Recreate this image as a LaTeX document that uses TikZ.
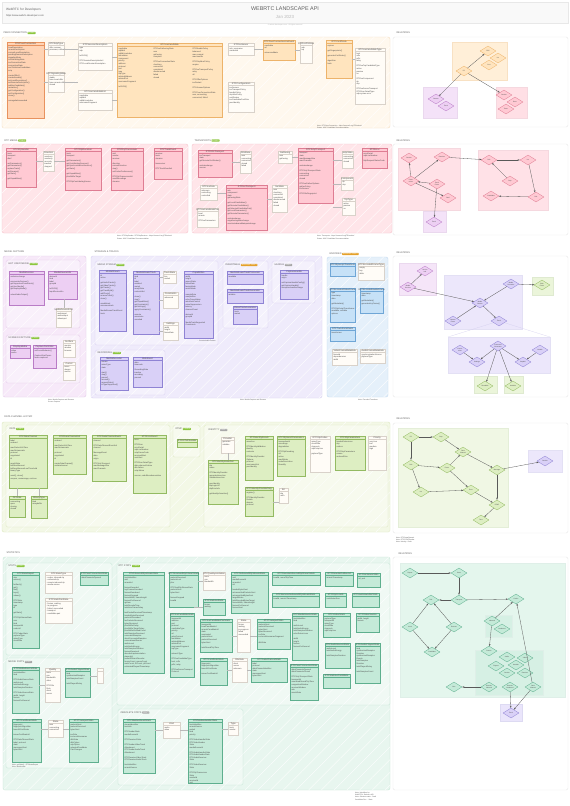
\documentclass[tikz,border=0pt]{standalone}
\usepackage{fontspec}
\setmainfont{Liberation Sans}
\usetikzlibrary{shapes.geometric,arrows.meta,calc,patterns.meta}
\definecolor{txtc}{HTML}{4A4A4A}
\definecolor{orD}{HTML}{FFD3B4}\definecolor{orDb}{HTML}{E8925E}
\definecolor{orL}{HTML}{FFE4BE}\definecolor{orLb}{HTML}{EDB36A}
\definecolor{paleF}{HTML}{FFFCF7}\definecolor{paleB}{HTML}{D9D2CA}
\definecolor{orS}{HTML}{FFF8EE}\definecolor{orSb}{HTML}{F4DEC2}
\definecolor{pkS}{HTML}{FFE5E9}\definecolor{pkSb}{HTML}{F5C3CB}
\definecolor{pkB}{HTML}{FFC9D3}\definecolor{pkBb}{HTML}{DE7D93}
\definecolor{puS}{HTML}{F7E9F9}\definecolor{puSb}{HTML}{E3CAE9}
\definecolor{puB}{HTML}{EDCFF3}\definecolor{puBb}{HTML}{B97CC6}
\definecolor{laS}{HTML}{EFEBFB}\definecolor{laSb}{HTML}{D8D0F0}
\definecolor{laB}{HTML}{D9D0F7}\definecolor{laBb}{HTML}{8F83D4}
\definecolor{blS}{HTML}{E5F0FA}\definecolor{blSb}{HTML}{C4DAF0}
\definecolor{blB}{HTML}{C6E1F7}\definecolor{blBb}{HTML}{6FA6D6}
\definecolor{gnS}{HTML}{F3F8E6}\definecolor{gnSb}{HTML}{DCE8C0}
\definecolor{gnB}{HTML}{DDEEC2}\definecolor{gnBb}{HTML}{93BA62}
\definecolor{mnS}{HTML}{E8F6EF}\definecolor{mnSb}{HTML}{C6E6D6}
\definecolor{mnB}{HTML}{C4EAD8}\definecolor{mnBb}{HTML}{5EAF8E}
\definecolor{tagG}{HTML}{8CC63F}\definecolor{tagO}{HTML}{E4A12B}\definecolor{tagY}{HTML}{A8A8A8}
\tikzset{
 ub/.style={draw,anchor=north west,inner sep=0pt,line width=0.3pt},
 ubt/.style={anchor=north,font=\fontsize{2.3}{2.7}\selectfont,text=txtc,inner sep=0.6pt},
 ubx/.style={anchor=north west,align=left,font=\fontsize{2}{2.55}\selectfont,text=txtc,inner sep=0.3pt},
 ork/.style={fill=orD,draw=orDb}, orl/.style={fill=orL,draw=orLb},
 pal/.style={fill=paleF,draw=paleB}, pkb/.style={fill=pkB,draw=pkBb},
 pub/.style={fill=puB,draw=puBb}, lab/.style={fill=laB,draw=laBb},
 blb/.style={fill=blB,draw=blBb}, gnb/.style={fill=gnB,draw=gnBb},
 mnb/.style={fill=mnB,draw=mnBb},
 secbox/.style={line width=0.4pt,rounded corners=2pt},
 hatch/.style={pattern={Lines[angle=45,distance=9pt,line width=0.35pt]},pattern color=white},
 subp/.style={draw=#1,line width=0.35pt,rounded corners=1.5pt,fill=white,fill opacity=0.35},
 stt/.style={anchor=west,font=\fontsize{2.4}{3}\selectfont,text=gray!75!black,inner sep=0.3pt},
 tagst/.style={fill=#1,rounded corners=0.6pt,font=\fontsize{1.8}{2}\selectfont,text=white,inner sep=0.6pt,anchor=west},
 note/.style={anchor=north west,align=left,font=\fontsize{1.7}{2.2}\selectfont,text=gray!70!black,inner sep=0pt},
 relp/.style={draw=gray!18,fill=white,line width=0.4pt,rounded corners=1.5pt},
 dia/.style={diamond,draw,inner sep=0pt,minimum width=16pt,minimum height=10pt,line width=0.3pt,align=center,font=\fontsize{1.6}{1.8}\selectfont,text=txtc},
 dor/.style={dia,fill=orL,draw=orLb}, dpk/.style={dia,fill=pkB,draw=pkBb},
 dpu/.style={dia,fill=puB,draw=puBb}, dla/.style={dia,fill=laB,draw=laBb},
 dgn/.style={dia,fill=gnB,draw=gnBb}, dmn/.style={dia,fill=mnB,draw=mnBb},
 rarr/.style={-{Stealth[length=2.2pt,width=1.6pt]},draw=gray!70!black,line width=0.3pt},
 lnk/.style={draw=gray!55,line width=0.25pt}
}
\newcommand\ub[8]{%
 \node[ub,#6,minimum width=#4pt,minimum height=#5pt] (#1) at (#2,#3) {};
 \node[ubt] at (#1.north) {#7};
 \draw[#6,fill=none,line width=0.25pt] ($(#1.north west)+(0pt,-3.6pt)$) -- ($(#1.north east)+(0pt,-3.6pt)$);
 \node[ubx] at ($(#1.north west)+(1pt,-4.2pt)$) {#8};
}
\newcommand\secrect[3]{% style, corner1, corner2
 \draw[secbox,#1] #2 rectangle #3;
 \fill[hatch,rounded corners=2pt] #2 rectangle #3;
}
\begin{document}
\begin{tikzpicture}[x=1pt,y=-1pt]
\useasboundingbox (0,0) rectangle (570,806);
\fill[white] (0,0) rectangle (570,806);
% ================= HEADER =================
\draw[fill=gray!5,draw=gray!18,line width=0.4pt] (2,2) rectangle (568,23);
\node[anchor=west,font=\fontsize{3.2}{4}\selectfont,text=gray!80!black,inner sep=0] (hd1) at (6,10) {WebRTC for Developers};
\node[anchor=west,font=\fontsize{2.4}{3}\selectfont,text=gray!65!black,inner sep=0] (hd2) at (6,15.5) {https://www.webrtc-developers.com};
\node[font=\fontsize{5.4}{6}\selectfont,text=gray!75!black,inner sep=0] (hd3) at (285,9) {WEBRTC LANDSCAPE API};
\node[font=\fontsize{4.4}{5}\selectfont,text=gray!55,inner sep=0] (hd4) at (285,17) {Jan 2023};
\node[font=\fontsize{1.7}{2}\selectfont,text=gray!60,inner sep=0] (hd5) at (285,25.5) {\textcopyright{} webrtc-developers.com - All rights reserved};

% ================= SECTION 1 : PEER CONNECTION =================
\secrect{fill=orS,draw=orSb}{(2,37)}{(390,128)}
\node[stt] (s1t) at (3,33) {PEER CONNECTION};
\node[tagst=tagG] at (s1t.east) {STABLE};
\ub{A}{7}{42}{37}{76}{ork}{RTCPeerConnection}{localDescription\\remoteDescription\\currentLocalDescription\\pendingRemoteDescription\\signalingState\\iceGatheringState\\iceConnectionState\\connectionState\\canTrickleIceCandidates\\sctp\\\\createOffer()\\createAnswer()\\setLocalDescription()\\setRemoteDescription()\\addIceCandidate()\\restartIce()\\getConfiguration()\\setConfiguration()\\close()\\\\onnegotiationneeded}
\ub{B}{48}{42}{16}{13}{pal}{RTCSdpType}{offer, answer\\pranswer, rollback}
\ub{C}{48}{72}{16}{20}{pal}{RTCSignalingState}{stable\\have-local-offer\\have-remote-offer\\closed}
\ub{D}{78}{43}{34}{27}{pal}{RTCSessionDescription}{type\\sdp\\\\toJSON()\\\\RTCSessionDescriptionInit\\RTCLocalSessionDescription}
\ub{E}{78}{90}{34}{20}{pal}{RTCIceCandidateInit}{candidate\\sdpMid\\sdpMLineIndex\\usernameFragment}
\ub{F}{117}{43}{105}{74}{orl}{RTCIceCandidate}{candidate\\sdpMid\\sdpMLineIndex\\foundation\\component\\priority\\address\\protocol\\port\\type\\tcpType\\relatedAddress\\relatedPort\\usernameFragment\\\\toJSON()}
\node[ubx] (Fc2) at ($(F.north west)+(36pt,-5pt)$) {RTCIceGatheringState\\new\\gathering\\complete\\\\RTCIceConnectionState\\checking\\connected\\completed\\disconnected\\failed\\closed};
\node[ubx] (Fc3) at ($(F.north west)+(75pt,-5pt)$) {RTCBundlePolicy\\balanced\\max-compat\\max-bundle\\\\RTCRtcpMuxPolicy\\require\\\\RTCIceTransportPolicy\\relay\\all\\\\RTCOfferOptions\\iceRestart\\\\RTCAnswerOptions\\\\RTCPeerConnectionState\\new, connecting\\connected, failed};
\ub{G}{228}{43}{26}{12}{pal}{RTCIceServer}{urls, username\\credential}
\ub{H}{228}{82}{26}{30}{pal}{RTCConfiguration}{iceServers\\iceTransportPolicy\\bundlePolicy\\rtcpMuxPolicy\\certificates\\iceCandidatePoolSize\\peerIdentity}
\ub{I}{263}{40}{32}{20}{orl}{RTCPeerConnectionIceEvent}{candidate\\url\\\\onicecandidate}
\ub{J}{300}{42}{12}{21}{pal}{RTCIceProtocol}{udp\\tcp\\\\}
\ub{K}{326}{40}{26}{38}{orl}{RTCCertificate}{expires\\\\getFingerprints()\\\\generateCertificate()\\\\algorithm\\hash}
\ub{L}{355}{48}{30}{56}{pal}{RTCIceCandidateType}{host\\srflx\\prflx\\relay\\\\RTCIceTcpCandidateType\\active\\passive\\so\\\\RTCIceComponent\\rtp\\rtcp\\\\RTCIceServerTransport\\RTCErrorDetailType\\sdp-syntax-error}
\draw[lnk] (A.east |- B.west) -- (B.west);
\draw[lnk] (A.east |- C.west) -- (C.west);
\draw[lnk] (B.east) -- (B.east -| D.west);
\draw[lnk] (C.east) -- (C.east -| E.west);
\draw[lnk] (D.east) -- (D.east -| F.west);
\draw[lnk] (E.east) -- (E.east -| F.west);
\draw[lnk] (G.east) -- (G.east -| I.west);
\draw[lnk] (I.east) -- (I.east -| J.west);
\draw[lnk] (K.east) -- (K.east -| L.west);
\node[note] (n1) at (317,125) {Note: RTCPeerConnection - https://www.w3.org/TR/webrtc/\\Status: W3C Candidate Recommendation};

% relations 1
\node[stt] at (396,33) {RELATIONS};
\draw[relp] (393,37) rectangle (568,127);
\draw[fill=orL!60,draw=orLb!40] (452,42) rectangle (507,80);
\draw[fill=puB!60,draw=puBb!30] (423,87) rectangle (457,118);
\draw[fill=pkB!60,draw=pkBb!30] (496,87) rectangle (527,118);
\node[dor] (r1a) at (464,71) {PC};
\node[dor] (r1b) at (488,51) {SDP};
\node[dor] (r1c) at (498,58) {Ice};
\node[dor] (r1d) at (489,65) {Cert};
\node[dpu] (r1e) at (436,99) {Stream};
\node[dpu] (r1f) at (446,106) {Track};
\node[dpk] (r1g) at (504,95) {Sender};
\node[dpk] (r1h) at (515,102) {Recv.};
\node[dpk] (r1i) at (506,109) {Trans.};
\draw[rarr] (r1a) -- (r1b);
\draw[rarr] (r1a) -- (r1e);
\draw[rarr] (r1a) -- (r1g);

% ================= SECTION 2 : RTP MEDIA / TRANSPORTS =================
\secrect{fill=pkS,draw=pkSb}{(2,144)}{(188,233)}
\node[stt] (s2t) at (4,140.5) {RTP MEDIA};
\node[tagst=tagG] at (s2t.east) {STABLE};
\ub{P1}{6}{148}{30}{39}{pkb}{RTCRtpSender}{track\\transport\\dtmf\\\\setParameters()\\getParameters()\\replaceTrack()\\setStreams()\\getStats()\\\\getCapabilities()}
\ub{P2}{43}{151}{11}{20}{pal}{Direction}{sendrecv\\sendonly\\recvonly\\inactive\\stopped}
\ub{P3}{65}{148}{36}{42}{pkb}{RTCRtpReceiver}{track\\transport\\\\getParameters()\\getContributingSources()\\getSynchronizationSources()\\getStats()\\\\getCapabilities()\\jitterBufferTarget\\\\RTCRtpContributingSource}
\ub{P4}{111}{148}{32}{42}{pkb}{RTCRtpTransceiver}{mid\\sender\\receiver\\\\direction\\currentDirection\\stop()\\setCodecPreferences()\\\\RTCRtpTransceiverInit\\sendEncodings\\streams}
\ub{P5}{154}{148}{28}{31}{pkb}{RTCTrackEvent}{receiver\\track\\streams\\\\transceiver\\\\RTCTrackEventInit}
\draw[lnk] (P1.east |- P2.west) -- (P2.west);
\draw[lnk] (P2.east) -- (P2.east -| P3.west);
\node[note] (n2a) at (117,235.5) {Note: RTCRtpSender / RTCRtpReceiver - https://www.w3.org/TR/webrtc/\\Status: W3C Candidate Recommendation};

\secrect{fill=pkS,draw=pkSb}{(192,144)}{(392,233)}
\node[stt] (s2u) at (194,140.5) {TRANSPORTS};
\node[tagst=tagG] at (s2u.east) {STABLE};
\ub{Q1}{198}{150}{34}{27}{pkb}{RTCDtlsTransport}{iceTransport\\state\\getRemoteCertificates()\\\\onstatechange\\onerror}
\ub{Q2}{240}{151}{11}{22}{pal}{DtlsState}{new\\connecting\\connected\\closed\\failed}
\ub{Q4}{200}{185}{17}{15}{pal}{RTCIceRole}{unknown\\controlling\\controlled}
\ub{Q5}{197}{208}{21}{19}{pal}{RTCIceCandidatePair}{local\\remote\\\\RTCIceParameters}
\ub{Q3}{226}{185}{41}{45}{pkb}{RTCIceTransport}{role\\component\\state\\gatheringState\\\\getLocalCandidates()\\getRemoteCandidates()\\getSelectedCandidatePair()\\getLocalParameters()\\getRemoteParameters()\\\\onstatechange\\ongatheringstatechange\\onselectedcandidatepairchange}
\ub{Q6}{272}{185}{15}{27}{pal}{IceState}{new\\checking\\connected\\completed\\disconnected\\failed\\closed}
\ub{Q7}{278}{151}{14}{12}{pal}{Gathering}{new\\gathering}
\ub{Q8}{298}{148}{35}{55}{pkb}{RTCSctpTransport}{transport\\state\\maxMessageSize\\maxChannels\\\\onstatechange\\\\RTCSctpTransportState\\connecting\\connected\\closed\\\\RTCIceGatherOptions\\gatherPolicy\\iceServers\\\\RTCDtlsFingerprint}
\ub{Q9}{342}{151}{11}{17}{pal}{SctpState}{connecting\\connected\\closed}
\ub{Q10}{341}{177}{12}{13}{pal}{Component}{rtp\\rtcp}
\ub{Q11}{342}{198}{13}{17}{pal}{TcpType}{active\\passive\\so}
\ub{Q12}{362}{148}{25}{20}{pkb}{RTCError}{errorDetail\\sdpLineNumber\\\\httpRequestStatusCode}
\draw[lnk] (Q1.east |- Q2.west) -- (Q2.west);
\draw[lnk] (Q4.east) -- (Q4.east -| Q3.west);
\draw[lnk] (Q3.east |- Q6.west) -- (Q6.west);
\draw[lnk] (Q7.east) -- (Q7.east -| Q8.west);
\draw[lnk] (Q8.east |- Q9.west) -- (Q9.west);
\draw[lnk] (Q8.east |- Q10.west) -- (Q10.west);
\draw[lnk] (Q8.east |- Q11.west) -- (Q11.west);
\node[note] (n2b) at (317,235.5) {Note: Transports - https://www.w3.org/TR/webrtc/\\Status: W3C Candidate Recommendation};

% relations 2
\node[stt] at (396,140.5) {RELATIONS};
\draw[relp] (393,144) rectangle (568,235);
\draw[fill=pkB!55,draw=pkBb!30] (398,148) rectangle (460,210);
\draw[fill=pkB!55,draw=pkBb!30] (478,150) rectangle (548,210);
\draw[fill=puB!60,draw=puBb!30] (423,211) rectangle (446,232);
\node[dpk] (r2a) at (409,158) {Sender};
\node[dpk] (r2b) at (442,157) {Receiver};
\node[dpk] (r2c) at (411,181) {Trans-\\ceiver};
\node[dpk] (r2d) at (437,184) {Track\\Event};
\node[dpk] (r2e) at (448,198) {Dtmf};
\node[dpk] (r2f) at (489,160) {Dtls};
\node[dpk] (r2g) at (528,160) {Ice};
\node[dpk] (r2h) at (510,181) {Sctp};
\node[dpk] (r2i) at (491,196) {Candidate};
\node[dpk] (r2j) at (536,197) {Pair};
\node[dpu] (r2k) at (434,222) {Track};
\draw[rarr] (r2c) -- (r2a);
\draw[rarr] (r2c) -- (r2b);
\draw[rarr] (r2d) -- (r2c);
\draw[rarr] (r2c) -- (r2e);
\draw[rarr] (r2d) -- (r2k);
\draw[rarr] (r2b) -- (r2f);
\draw[rarr] (r2f) -- (r2g);
\draw[rarr] (r2h) -- (r2f);
\draw[rarr] (r2g) -- (r2j);
\draw[rarr] (r2j) -- (r2i);

% ================= SECTION 3 : MEDIA CAPTURE / STREAMS / ENCODED =================
\node[stt] at (4,252) {MEDIA CAPTURE};
\secrect{fill=puS,draw=puSb}{(3,256)}{(86,397)}
\draw[subp=puSb] (6,260) rectangle (80,328);
\node[stt] (s3a) at (8,264) {GET USER MEDIA};
\node[tagst=tagG] at (s3a.east) {STABLE};
\ub{R1}{9}{271}{35}{34}{pub}{MediaDevices}{ondevicechange\\\\enumerateDevices()\\getSupportedConstraints()\\getUserMedia()\\getDisplayMedia()\\\\selectAudioOutput()}
\ub{R2}{48}{271}{29}{28}{pub}{MediaDeviceInfo}{deviceId\\kind\\label\\groupId\\\\toJSON()\\InputDeviceInfo}
\ub{R3}{56}{308}{15}{19}{pal}{MediaDeviceKind}{audioinput\\audiooutput\\videoinput\\}
\draw[lnk] (R2.south -| R3.north) -- (R3.north);
\draw[subp=puSb] (6,335) rectangle (80,383);
\node[stt] (s3b) at (8,338) {SCREEN CAPTURE};
\node[tagst=tagG] at (s3b.east) {STABLE};
\ub{R4}{10}{345}{20}{13}{pub}{DisplayMedia}{video\\audio}
\ub{R5}{33}{345}{23}{23}{pub}{CaptureController}{setFocusBehavior()\\\\CaptureStartFocus\\focus-captured}
\ub{R6}{63}{340}{12}{17}{pal}{Surface}{monitor\\window\\browser}
\ub{R7}{63}{362}{12}{18}{pal}{Cursor}{never\\always\\motion}
\node[note] (n3a) at (48,399) {Note: Media Capture and Streams\\Screen Capture};

\node[stt] at (94,252) {STREAMS \& TRACKS};
\secrect{fill=laS,draw=laSb}{(91,256)}{(322,398)}
\draw[subp=laSb] (95,261) rectangle (218,345);
\node[stt] (s3c) at (97,265) {MEDIA STREAM};
\node[tagst=tagG] at (s3c.east) {STABLE};
\ub{S1}{99}{270}{27}{61}{lab}{MediaStream}{id\\active\\\\getAudioTracks()\\getVideoTracks()\\getTracks()\\getTrackById()\\addTrack()\\removeTrack()\\clone()\\\\onaddtrack\\onremovetrack\\\\MediaStreamTrackEvent\\track\\\\}
\ub{S2}{133}{271}{26}{63}{lab}{MediaStreamTrack}{kind\\id\\label\\enabled\\muted\\readyState\\contentHint\\\\clone()\\stop()\\getCapabilities()\\getConstraints()\\getSettings()\\applyConstraints()\\\\onmute\\onunmute\\onended\\\\}
\ub{S3}{163}{271}{13}{12}{pal}{TrackState}{live\\ended}
\ub{S4}{163}{292}{15}{16}{pal}{Constraints}{advanced\\\\}
\ub{S5}{163}{322}{15}{18}{pal}{Settings}{width\\height\\frameRate}
\ub{S6}{184}{271}{29}{67}{lab}{Capabilities}{width\\height\\aspectRatio\\frameRate\\facingMode\\resizeMode\\\\sampleRate\\sampleSize\\echoCancellation\\autoGainControl\\noiseSuppression\\latency\\channelCount\\\\deviceId\\groupId\\\\MediaTrackSupported\\Constraints}
\draw[lnk] (S2.east |- S3.west) -- (S3.west);
\draw[lnk] (S2.east |- S4.west) -- (S4.west);
\draw[lnk] (S2.east |- S5.west) -- (S5.west);
\node[note] (n3b) at (197,340.5) {... Constrainable Pattern};
\draw[subp=laSb] (95,350) rectangle (165,395);
\node[stt] (s3d) at (97,353) {RECORDING};
\node[tagst=tagG] at (s3d.east) {STABLE};
\ub{S7}{100}{357}{28}{33}{lab}{MediaRecorder}{stream\\mimeType\\state\\\\start()\\stop()\\pause()\\resume()\\requestData()\\isTypeSupported()}
\ub{S8}{133}{357}{29}{30}{lab}{BlobEvent}{data\\timecode\\\\RecordingState\\inactive\\recording\\paused}
\draw[subp=laSb] (223,261) rectangle (268,328);
\node[stt] (s3e) at (225,265) {INSERTABLE};
\node[tagst=tagO] at (s3e.east) {WORKING DRAFT};
\ub{S9}{227}{271}{36}{13}{lab}{MediaStreamTrackProcessor}{readable}
\ub{S10}{227}{289}{36}{14}{lab}{MediaStreamTrackGenerator}{writable\\}
\ub{S11}{233}{306}{24}{18}{lab}{VideoTrackGenerator}{track\\muted\\}
\draw[subp=laSb] (272,261) rectangle (315,303);
\node[stt] (s3f) at (274,265) {HANDLE};
\node[tagst=tagY] at (s3f.east) {DRAFT};
\ub{S12}{280}{270}{28}{29}{lab}{CaptureHandle}{handle\\origin\\\\setCaptureHandleConfig()\\getCaptureHandle()\\oncapturehandlechange}
\node[note] (n3c) at (240,399.5) {Note: Media Capture and Streams};

\node[stt] (s3g) at (329,254) {ENCODED};
\node[tagst=tagO] at (s3g.east) {WORKING DRAFT};
\secrect{fill=blS,draw=blSb}{(327,257)}{(388,397)}
\ub{T1}{330}{263}{25}{13}{blb}{RTCRtpScriptTransform}{}
\ub{T2}{358}{263}{26}{17}{pal}{RTCEncodedFrameType}{empty\\key\\delta}
\ub{T3}{330}{288}{25}{34}{blb}{RTCEncodedVideoFrame}{type\\timestamp\\data\\\\getMetadata()\\\\RTCRtpScriptTransformer\\readable, writable\\options}
\ub{T4}{360}{288}{23}{25}{blb}{RTCEncodedAudioFrame}{timestamp\\data\\\\getMetadata()\\generateKeyFrame()}
\ub{T5}{330}{327}{25}{14}{blb}{RTCTransformEvent}{transformer\\}
\ub{T6}{332}{349}{25}{16}{pal}{VideoFrameMetadata}{frameId\\dependencies\\width}
\ub{T7}{360}{349}{25}{14}{pal}{AudioFrameMetadata}{synchronizationSource\\payloadType}
\node[note] (n3d) at (358,399.5) {Note: Encoded Transform};

% relations 3
\node[stt] at (396,253) {RELATIONS};
\draw[relp] (393,256) rectangle (568,397);
\draw[fill=puB!55,draw=puBb!30] (399,263) rectangle (436,295);
\draw[fill=laB!50,draw=laBb!25] (444,275) rectangle (522,329);
\draw[fill=gnB!60,draw=gnBb!30] (532,277) rectangle (553,295);
\draw[fill=laB!50,draw=laBb!25] (448,337) rectangle (550,373);
\draw[fill=gnB!60,draw=gnBb!30] (474,376) rectangle (497,393);
\draw[fill=gnB!60,draw=gnBb!30] (504,376) rectangle (523,393);
\draw[draw=laBb!40,line width=0.2pt] (499,321) -- (448,337);
\draw[draw=laBb!40,line width=0.2pt] (499,321) -- (550,337);
\node[dpu] (r3a) at (425,271) {Device\\Info};
\node[dpu] (r3b) at (408,287) {Media\\Devices};
\node[dla] (r3c) at (480,303) {Media\\Stream};
\node[dla] (r3d) at (511,284) {Media\\Recorder};
\node[dgn] (r3e) at (542,285) {Blob\\Event};
\node[dla] (r3f) at (453,321) {Stream\\Event};
\node[dla] (r3g) at (499,321) {Track};
\node[dla] (r3h) at (498,346) {Processor\\Generator};
\node[dla] (r3i) at (460,350) {Constr-\\aints};
\node[dla] (r3j) at (477,362) {Settings};
\node[dla] (r3k) at (523,362) {Capabil.};
\node[dla] (r3l) at (540,350) {Handle};
\node[dgn] (r3m) at (485,386) {Readable};
\node[dgn] (r3n) at (513,386) {Writable};
\draw[rarr] (r3b) -- (r3a);
\draw[rarr] (r3b) -- (r3c);
\draw[rarr] (r3d) -- (r3c);
\draw[rarr] (r3d) -- (r3e);
\draw[rarr] (r3f) -- (r3c);
\draw[rarr] (r3c) -- (r3g);
\draw[rarr] (r3i) -- (r3j);
\draw[rarr] (r3h) -- (r3j);
\draw[rarr] (r3h) -- (r3k);
\draw[rarr] (r3l) -- (r3k);
\draw[rarr] (r3h) -- (r3m);
\draw[rarr] (r3h) -- (r3n);

% ================= SECTION 4 : DATA CHANNEL / DTMF / IDENTITY =================
\node[stt] at (4,417) {DATA CHANNEL \& DTMF};
\secrect{fill=gnS,draw=gnSb}{(2,422)}{(390,532)}
\draw[subp=gnSb] (6,425) rectangle (170,527);
\node[stt] (s4a) at (9,429) {DATA};
\node[tagst=tagG] at (s4a.east) {STABLE};
\ub{U1}{9}{435}{38}{53}{gnb}{RTCDataChannel}{label\\ordered\\\\maxPacketLifeTime\\maxRetransmits\\protocol\\negotiated\\id\\\\readyState\\bufferedAmount\\bufferedAmountLowThreshold\\binaryType\\\\send(), close()\\onopen, onmessage, onclose}
\ub{U2}{53}{435}{33}{39}{gnb}{RTCDataChannelInit}{ordered\\\\maxPacketLifeTime\\maxRetransmits\\\\protocol\\negotiated\\id\\\\createDataChannel()\\ondatachannel}
\ub{U3}{92}{435}{34}{46}{gnb}{RTCDataChannelEvent}{channel\\\\RTCDataChannelEventInit\\channel\\\\MessageEvent\\data\\origin\\\\RTCSctpTransport\\maxMessageSize\\maxChannels}
\ub{U4}{133}{435}{33}{58}{gnb}{RTCErrorEvent}{error\\\\RTCError\\errorDetail\\sdpLineNumber\\sctpCauseCode\\receivedAlert\\sentAlert\\\\RTCErrorDetailType\\data-channel-failure\\dtls-failure\\sctp-failure\\\\onerror, onbufferedamountlow}
\ub{U5}{9}{496}{16}{21}{gnb}{DCState}{connecting\\open\\closing\\closed}
\ub{U6}{31}{496}{16}{22}{gnb}{BinaryType}{blob\\arraybuffer\\\\}
\draw[lnk] (U1.south -| U5.north) -- (U5.north);
\draw[lnk] (U1.south -| U6.north) -- (U6.north);
\draw[subp=gnSb] (173,425) rectangle (200,457);
\node[stt] (s4b) at (175,429) {DTMF};
\node[tagst=tagG] at (s4b.east) {STABLE};
\ub{U7}{177}{439}{20}{8}{gnb}{RTCDTMFSender}{}
\draw[subp=gnSb] (204,425) rectangle (388,527);
\node[stt] (s4c) at (208,430) {IDENTITY};
\node[tagst=tagY] at (s4c.east) {DRAFT};
\ub{U8}{221}{437}{13}{16}{pal}{Provider}{generate\\validate}
\ub{U9}{208}{460}{30}{44}{gnb}{RTCIdentityAssertion}{idp\\name\\\\RTCIdentityProvider\\generateAssertion\\validateAssertion\\\\peerIdentity\\idpLoginUrl\\idpErrorInfo\\\\getIdentityAssertion()}
\ub{U10}{245}{436}{28}{44}{gnb}{RTCIdentityResult}{assertion\\\\RTCIdentityValidation\\identity\\contents\\\\RTCIdentityProvider\\Options\\protocol\\usernameHint\\peerIdentity}
\ub{U11}{245}{487}{28}{29}{gnb}{RTCIdentityProviderReg}{register()\\\\RTCIdentityProvider\\Details\\domain\\protocol}
\ub{U12}{279}{488}{9}{15}{pal}{Err}{idp\\auth}
\ub{U13}{277}{436}{28}{40}{gnb}{RTCRtpSendParameters}{transactionId\\encodings\\degradation\\\\RTCRtpEncoding\\rid\\active\\maxBitrate\\scaleResolution\\DownBy}
\ub{U14}{310}{436}{20}{36}{pal}{RTCRtpCodec}{mimeType\\clockRate\\channels\\sdpFmtpLine\\\\payloadType}
\ub{U15}{335}{436}{30}{34}{gnb}{RTCRtpParameters}{headerExtensions\\rtcp\\codecs\\\\RTCRtcpParameters\\cname\\reducedSize}
\ub{U16}{368}{436}{18}{34}{pal}{Priority}{very-low\\low\\medium\\high\\\\}
\draw[lnk] (U8.south) -- (U8.south |- U9.north);
\draw[lnk] (U11.east) -- (U11.east -| U12.west);
\node[note] (n4) at (396,537) {Note: RTCDataChannel\\Note: RTCDTMFSender\\Note: Identity - Draft};

% relations 4
\node[stt] at (396,419) {RELATIONS};
\draw[relp] (393,423) rectangle (568,533);
\draw[fill=gnB!45,draw=gnBb!25] (398,428) rectangle (508,527);
\draw[fill=laB!50,draw=laBb!25] (528,450) rectangle (562,472);
\node[dgn] (r4a) at (411,437) {PC};
\node[dgn] (r4b) at (441,437) {Sctp};
\node[dgn] (r4c) at (463,452) {Data\\Channel};
\node[dgn] (r4d) at (411,465) {Dtls};
\node[dgn] (r4e) at (447,468) {Event};
\node[dgn] (r4f) at (421,492) {Ice};
\node[dgn] (r4g) at (471,490) {Error};
\node[dgn] (r4h) at (497,470) {Message};
\node[dgn] (r4i) at (497,505) {DTMF};
\node[dgn] (r4j) at (481,520) {Tone};
\node[dla] (r4k) at (545,461) {Sender};
\draw[rarr] (r4a) -- (r4b);
\draw[rarr] (r4b) -- (r4c);
\draw[rarr] (r4a) -- (r4d);
\draw[rarr] (r4d) -- (r4e);
\draw[rarr] (r4e) -- (r4c);
\draw[rarr] (r4d) -- (r4f);
\draw[rarr] (r4f) -- (r4g);
\draw[rarr] (r4e) -- (r4g);
\draw[rarr] (r4c) -- (r4h);
\draw[rarr] (r4h) -- (r4i);
\draw[rarr] (r4g) -- (r4i);
\draw[rarr] (r4i) -- (r4j);
\draw[rarr] (r4h) -- (r4k);

% ================= SECTION 5 : STATISTICS =================
\node[stt] at (6,553) {STATISTICS};
\secrect{fill=mnS,draw=mnSb}{(3,557)}{(390,790)}
\draw[subp=mnSb] (6,563) rectangle (112,655);
\node[stt] (s5a) at (8,566) {STATS};
\node[tagst=tagG] at (s5a.east) {STABLE};
\ub{V1}{12}{572}{27}{76}{mnb}{RTCStatsReport}{size\\entries()\\\\forEach()\\get()\\has()\\keys()\\values()\\\\RTCStats\\timestamp\\type\\id\\\\getStats()\\\\RTCRtpStreamStats\\ssrc\\kind\\transportId\\codecId\\\\RTCCodecStats\\payloadType\\mimeType\\clockRate}
\ub{V2}{45}{572}{27}{21}{pal}{RTCStatsType}{- codec, inbound-rtp\\- outbound-rtp\\- remote-inbound-rtp\\- media-source}
\ub{V3}{45}{598}{27}{25}{pal}{RTCStatsPairState}{- frozen, waiting\\- in-progress\\- failed, succeeded\\- transport\\- candidate-pair}
\ub{V4}{80}{572}{28}{13}{mnb}{RTCPeerConnectionStats}{dataChannelsOpened\\}
\draw[subp=mnSb] (6,658) rectangle (112,768);
\node[stt] (s5b) at (8,662) {MEDIA STATS};
\node[tagst=tagY] at (s5b.east) {DRAFT};
\ub{V5}{12}{667}{27}{46}{mnb}{RTCMediaSourceStats}{trackIdentifier\\kind\\\\RTCAudioSourceStats\\audioLevel\\totalAudioEnergy\\totalSamplesDuration\\\\RTCVideoSourceStats\\width, height\\frames\\framesPerSecond}
\ub{V6}{45}{668}{15}{34}{pal}{Quality}{none\\cpu\\bandwidth\\other\\\\RTCDtls\\Role\\client\\server}
\ub{V7}{65}{668}{25}{29}{mnb}{RTCAudioPlayoutStats}{kind\\synthesizedSamples\\totalSamplesCount\\\\totalPlayoutDelay}
\ub{V8}{97}{668}{6}{15}{pal}{}{}
\ub{V9}{12}{719}{29}{43}{mnb}{RTCCertificateStats}{fingerprint\\fingerprintAlgorithm\\base64Certificate\\\\issuerCertificateId\\\\RTCDataChannelStats\\label, protocol\\state\\messagesSent\\bytesSent}
\ub{V10}{48}{720}{15}{17}{pal}{State}{new\\connecting\\connected}
\ub{V11}{69}{719}{29}{43}{mnb}{RTCTransportStats}{packetsSent\\packetsReceived\\bytesSent\\\\iceRole\\iceLocalUsername\\dtlsState\\dtlsCipher\\srtpCipher\\selectedCandidate\\PairChanges}
\draw[lnk] (V5.east |- V6.west) -- (V6.west);
\draw[lnk] (V7.east |- V8.west) -- (V8.west);
\draw[lnk] (V9.east |- V10.west) -- (V10.west);
\draw[lnk] (V10.east) -- (V10.east -| V11.west);
\node[note] (n5a) at (12,764) {Note: getStats() - RTCStatsReport\\Note: Media stats};

\draw[subp=mnSb] (117,563) rectangle (390,705);
\node[stt] (s5c) at (118,566) {RTP STATS};
\node[tagst=tagG] at (s5c.east) {STABLE};
\ub{W1}{123}{572}{41}{101}{mnb}{RTCInboundRtpStreamStats}{trackIdentifier\\mid\\remoteId\\\\framesDecoded\\keyFramesDecoded\\framesRendered\\framesDropped\\frameWidth, frameHeight\\framesPerSecond\\qpSum\\totalDecodeTime\\totalInterFrameDelay\\\\lastPacketReceivedTimestamp\\headerBytesReceived\\packetsDiscarded\\fecPacketsReceived\\bytesReceived\\jitterBufferDelay\\jitterBufferTargetDelay\\jitterBufferEmittedCount\\totalSamplesReceived\\concealedSamples\\silentConcealedSamples\\concealmentEvents\\audioLevel\\totalAudioEnergy\\totalSamplesDuration\\framesReceived\\decoderImplementation\\playoutId\\powerEfficientDecoder\\freezeCount, pauseCount\\nackCount, firCount, pliCount\\estimatedPlayoutTimestamp}
\ub{W2}{169}{572}{29}{35}{mnb}{RTCReceivedRtpStreamStats}{packetsReceived\\packetsLost\\jitter\\\\RTCSentRtpStreamStats\\packetsSent\\bytesSent\\\\framesDropped\\localId}
\ub{W3}{203}{572}{22}{18}{pal}{RTCQualityLimitation}{none\\cpu\\bandwidth}
\ub{W4}{231}{572}{37}{41}{mnb}{RTCOutboundRtpStreamStats}{mid\\mediaSourceId\\remoteId\\rid\\\\headerBytesSent\\retransmittedPacketsSent\\retransmittedBytesSent\\targetBitrate\\totalEncodedBytesTarget\\frameWidth, frameHeight\\framesPerSecond\\framesSent}
\ub{W5}{272}{572}{48}{13}{mnb}{RTCRemoteInboundRtpStreamStats}{localId, roundTripTime}
\ub{W6}{325}{572}{28}{14}{mnb}{RTCRemoteOutbound}{remoteTimestamp}
\ub{W7}{357}{573}{23}{14}{mnb}{RTCIceServerStats}{url, port}
\ub{W8}{170}{613}{24}{64}{mnb}{RTCIceCandidateStats}{transportId\\address\\port\\protocol\\candidateType\\priority\\url\\relayProtocol\\foundation\\relatedAddress\\relatedPort\\usernameFragment\\tcpType\\\\networkType\\\\RTCIceCandidateType\\host, srflx\\prflx, relay\\\\RTCIceServerTransport\\Protocol}
\ub{W9}{203}{599}{22}{16}{mnb}{RTCStatsIceState}{frozen\\waiting}
\ub{W10}{200}{619}{32}{33}{mnb}{RTCIceCandidatePairStats}{transportId\\localCandidateId\\remoteCandidateId\\state\\nominated\\packetsSent\\packetsReceived\\bytesSent\\\\totalRoundTripTime}
\ub{W11}{237}{619}{13}{33}{pal}{State}{frozen\\waiting\\in-progress\\failed\\succeeded\\\\}
\ub{W12}{257}{619}{33}{30}{mnb}{RTCTransportStats}{packetsSent\\packetsReceived\\bytesSent\\bytesReceived\\iceRole\\iceLocalUsernameFragment\\\\dtlsState}
\ub{W13}{272}{593}{47}{14}{mnb}{RTCRemoteOutboundRtpStreamStats}{localId, remoteTimestamp}
\ub{W14}{325}{593}{21}{14}{mnb}{RTCRtpContrib}{contributorSsrc}
\ub{W15}{352}{593}{27}{14}{mnb}{RTCAudioHandlerStats}{}
\ub{W16}{292}{613}{26}{47}{mnb}{RTCMediaSourceStats}{trackIdentifier\\kind\\\\audioLevel\\totalAudioEnergy\\totalSamplesDuration\\echoReturnLoss\\\\width\\height\\frames\\framesPerSecond\\\\}
\ub{W17}{323}{613}{27}{24}{mnb}{RTCCodecStats}{payloadType\\transportId\\mimeType\\clockRate\\channels\\sdpFmtpLine}
\ub{W18}{356}{613}{23}{19}{mnb}{RTCVideoSource}{width, height\\frames\\\\}
\ub{W19}{200}{658}{27}{27}{mnb}{RTCCertificateStats}{fingerprint\\fingerprintAlgorithm\\base64Certificate\\\\issuerCertificateId}
\ub{W20}{232}{658}{15}{24}{pal}{DtlsRole}{client\\server\\unknown\\\\}
\ub{W21}{251}{658}{36}{24}{mnb}{RTCDataChannelStats}{label\\protocol\\dataChannelIdentifier\\state\\messagesSent\\bytesSent}
\ub{W22}{325}{643}{25}{25}{mnb}{RTCAudioSourceStats}{audioLevel\\totalAudioEnergy\\\\totalSamplesDuration}
\ub{W23}{355}{643}{25}{40}{mnb}{RTCAudioPlayoutStats}{kind\\synthesizedSamples\\Duration\\synthesizedSamples\\Events\\totalSamples\\Duration\\totalPlayoutDelay\\\\totalSamplesCount}
\ub{W24}{290}{664}{28}{36}{mnb}{RTCPeerConnectionStats}{dataChannelsOpened\\dataChannelsClosed\\\\RTCSctpTransportStats\\transportId\\smoothedRoundTripTime\\congestionWindow\\receiverWindow\\mtu\\unackData}
\ub{W25}{323}{674}{27}{14}{mnb}{RTCStatsIceCandidate}{}
\draw[lnk] (W2.east |- W3.west) -- (W3.west);
\draw[lnk] (W8.east |- W9.west) -- (W9.west);
\draw[lnk] (W10.east |- W11.west) -- (W11.west);
\draw[lnk] (W11.east) -- (W11.east -| W12.west);
\draw[lnk] (W19.east |- W20.west) -- (W20.west);
\draw[lnk] (W20.east) -- (W20.east -| W21.west);

\draw[subp=mnSb] (118,709) rectangle (243,785);
\node[stt] (s5d) at (120,712.5) {OBSOLETE STATS};
\node[tagst=tagY] at (s5d.east) {DRAFT};
\ub{X1}{123}{719}{32}{54}{mnb}{RTCMediaStreamStats}{streamIdentifier\\trackIds\\\\RTCSenderStats\\mediaSourceId\\\\RTCReceiverStats\\\\RTCSenderVideoTrack\\Attachment\\RTCSenderAudioTrack\\Attachment\\\\RTCReceiverVideoTrack\\RTCReceiverAudioTrack\\\\trackIdentifier\\remoteSource}
\ub{X2}{163}{722}{17}{16}{pal}{Kind}{audio\\video\\}
\ub{X3}{188}{719}{34}{64}{mnb}{RTCMediaHandlerStats}{trackIdentifier\\remoteSource\\ended\\kind\\priority\\\\RTCVideoHandlerStats\\RTCVideoSender\\Stats\\mediaSourceId\\\\RTCAudioHandlerStats\\RTCAudioSenderStats\\RTCAudioReceiver\\Stats\\\\RTCVideoReceiver\\Stats\\\\RTCRtpTransceiver\\Stats\\senderId\\receiverId\\mid}
\ub{X4}{228}{722}{10}{13}{pal}{Type}{track\\sender}
\draw[lnk] (X1.east |- X2.west) -- (X2.west);
\draw[lnk] (X2.east) -- (X2.east -| X3.west);
\draw[lnk] (X3.east |- X4.west) -- (X4.west);
\node[note] (n5b) at (355,792) {Note: Identifiers for\\WebRTC's Statistics API\\Note: Obsolete stats - Draft\\Candidate Rec. - Stats};

% relations 5
\node[stt] at (398,554) {RELATIONS};
\draw[relp] (393,557) rectangle (568,790);
\draw[fill=mnB!45,draw=mnBb!20] (400,563) rectangle (565,697);
\draw[fill=mnB!70,draw=mnBb!20] (485,615) rectangle (512,637);
\draw[fill=mnB!70,draw=mnBb!20] (475,650) rectangle (543,695);
\draw[fill=laB!55,draw=laBb!30] (500,704) rectangle (522,721);
\node[dmn] (r5a) at (410,573) {Report};
\node[dmn] (r5b) at (459,573) {Stats};
\node[dmn] (r5c) at (459,600) {Transport};
\node[dmn] (r5d) at (431,600) {Pair};
\node[dmn] (r5e) at (516,599) {Codec};
\node[dmn] (r5f) at (410,627) {Local};
\node[dmn] (r5g) at (454,627) {Remote};
\node[dmn] (r5h) at (432,652) {Candidate};
\node[dmn] (r5i) at (492,621) {Inbound};
\node[dmn] (r5j) at (502,629) {Outbound};
\node[dmn] (r5k) at (489,651) {Source};
\node[dmn] (r5l) at (507,657) {Audio};
\node[dmn] (r5m) at (525,658) {Video};
\node[dmn] (r5n) at (496,666) {Playout};
\node[dmn] (r5o) at (516,665) {Handler};
\node[dmn] (r5p) at (507,673) {Sender};
\node[dmn] (r5q) at (525,673) {Receiver};
\node[dmn] (r5r) at (454,687) {Cert.};
\node[dmn] (r5s) at (489,687) {Remote\\Inbound};
\node[dmn] (r5t) at (510,687) {Remote\\Outbound};
\node[dmn] (r5u) at (533,687) {Data\\Channel};
\node[dla] (r5v) at (511,713) {Track};
\draw[rarr] (r5a) -- (r5b);
\draw[rarr] (r5b) -- (r5c);
\draw[rarr] (r5c) -- (r5d);
\draw[rarr] (r5c) -- (r5e);
\draw[rarr] (r5f) -- (r5d);
\draw[rarr] (r5g) -- (r5d);
\draw[rarr] (r5f) -- (r5h);
\draw[rarr] (r5g) -- (r5h);
\draw[rarr] (r5i) -- (r5e);
\draw[rarr] (r5i) -- (r5k);
\draw[rarr] (r5u) -- (r5e);
\draw[rarr] (r5s) -- (r5r);
\draw[rarr] (r5t) -- (r5v);
\draw[rarr] (r5u) -- (r5v);
\end{tikzpicture}
\end{document}
